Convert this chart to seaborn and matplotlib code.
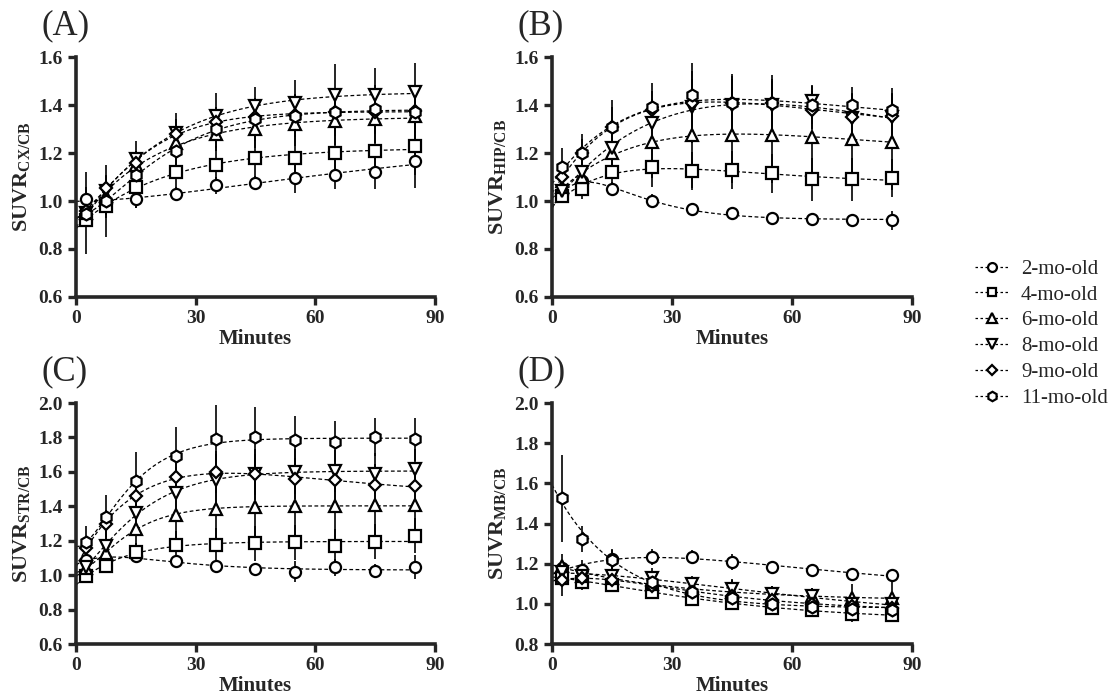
import numpy as np
import pandas as pd
import matplotlib
matplotlib.use("Agg")
import matplotlib.pyplot as plt
import seaborn as sns
from matplotlib.lines import Line2D

minutes = [2.5, 7.5, 15, 25, 35, 45, 55, 65, 75, 85]
groups = ["2-mo-old", "4-mo-old", "6-mo-old", "8-mo-old", "9-mo-old", "11-mo-old"]

# panel A (cortex)
cx_2 = [1.01, 0.99, 1.01, 1.03, 1.065, 1.075, 1.095, 1.11, 1.12, 1.165]
cx_4 = [0.92, 0.98, 1.06, 1.12, 1.15, 1.18, 1.18, 1.20, 1.21, 1.23]
cx_6 = [0.95, 1.02, 1.15, 1.24, 1.28, 1.30, 1.32, 1.335, 1.34, 1.355]
cx_8 = [0.95, 1.04, 1.175, 1.285, 1.355, 1.395, 1.41, 1.44, 1.44, 1.455]
cx_9 = [0.96, 1.055, 1.16, 1.28, 1.33, 1.35, 1.36, 1.37, 1.37, 1.375]
cx_11 = [0.945, 1.0, 1.11, 1.21, 1.30, 1.34, 1.355, 1.37, 1.385, 1.37]
cx_err_2 = [0.11, 0.05, 0.04, 0.03, 0.035, 0.03, 0.06, 0.06, 0.07, 0.11]
cx_err_4 = [0.14, 0.13, 0.09, 0.08, 0.08, 0.10, 0.10, 0.12, 0.12, 0.12]
cx_err_6 = [0.05, 0.06, 0.06, 0.06, 0.07, 0.08, 0.09, 0.10, 0.10, 0.10]
cx_err_8 = [0.04, 0.11, 0.075, 0.08, 0.095, 0.08, 0.095, 0.13, 0.115, 0.12]
cx_err_9 = [0.03, 0.05, 0.05, 0.06, 0.06, 0.07, 0.08, 0.08, 0.09, 0.09]
cx_err_11 = [0.04, 0.06, 0.07, 0.08, 0.08, 0.09, 0.09, 0.10, 0.10, 0.10]

# panel B (hippocampus)
hip_2 = [1.03, 1.085, 1.05, 1.00, 0.965, 0.948, 0.93, 0.925, 0.922, 0.92]
hip_4 = [1.02, 1.05, 1.12, 1.14, 1.125, 1.13, 1.115, 1.09, 1.09, 1.095]
hip_6 = [1.06, 1.10, 1.20, 1.245, 1.275, 1.275, 1.275, 1.265, 1.26, 1.245]
hip_8 = [1.04, 1.12, 1.22, 1.325, 1.39, 1.40, 1.40, 1.415, 1.345, 1.35]
hip_9 = [1.10, 1.20, 1.31, 1.38, 1.41, 1.41, 1.41, 1.38, 1.35, 1.355]
hip_11 = [1.14, 1.20, 1.31, 1.39, 1.44, 1.41, 1.41, 1.40, 1.40, 1.38]
hip_err_2 = [0.03, 0.04, 0.03, 0.03, 0.02, 0.02, 0.02, 0.02, 0.02, 0.04]
hip_err_4 = [0.03, 0.04, 0.06, 0.08, 0.08, 0.08, 0.08, 0.09, 0.09, 0.08]
hip_err_6 = [0.04, 0.06, 0.07, 0.15, 0.22, 0.20, 0.20, 0.18, 0.19, 0.20]
hip_err_8 = [0.05, 0.06, 0.08, 0.10, 0.15, 0.12, 0.10, 0.07, 0.10, 0.10]
hip_err_9 = [0.05, 0.06, 0.08, 0.08, 0.10, 0.10, 0.10, 0.08, 0.08, 0.08]
hip_err_11 = [0.08, 0.08, 0.11, 0.10, 0.135, 0.12, 0.115, 0.08, 0.075, 0.09]

# panel C (striatum)
str_2 = [1.09, 1.09, 1.11, 1.08, 1.055, 1.035, 1.02, 1.045, 1.025, 1.045]
str_4 = [0.995, 1.055, 1.135, 1.175, 1.175, 1.185, 1.19, 1.17, 1.195, 1.23]
str_6 = [1.04, 1.13, 1.27, 1.35, 1.385, 1.395, 1.40, 1.40, 1.41, 1.405]
str_8 = [1.05, 1.17, 1.36, 1.48, 1.555, 1.585, 1.60, 1.605, 1.59, 1.615]
str_9 = [1.16, 1.30, 1.46, 1.57, 1.60, 1.585, 1.56, 1.55, 1.525, 1.52]
str_11 = [1.19, 1.335, 1.545, 1.69, 1.79, 1.805, 1.785, 1.775, 1.80, 1.79]
str_err_2 = [0.05, 0.03, 0.03, 0.03, 0.03, 0.03, 0.06, 0.05, 0.04, 0.07]
str_err_4 = [0.03, 0.04, 0.05, 0.08, 0.10, 0.10, 0.10, 0.10, 0.10, 0.10]
str_err_6 = [0.05, 0.08, 0.10, 0.15, 0.20, 0.22, 0.25, 0.22, 0.22, 0.22]
str_err_8 = [0.05, 0.10, 0.12, 0.15, 0.15, 0.15, 0.13, 0.12, 0.12, 0.12]
str_err_9 = [0.05, 0.08, 0.10, 0.12, 0.12, 0.12, 0.12, 0.12, 0.12, 0.12]
str_err_11 = [0.095, 0.13, 0.17, 0.17, 0.20, 0.17, 0.14, 0.12, 0.11, 0.125]

# panel D (midbrain)
mb_2 = [1.18, 1.17, 1.225, 1.235, 1.235, 1.21, 1.185, 1.17, 1.15, 1.145]
mb_4 = [1.13, 1.11, 1.095, 1.06, 1.025, 1.005, 0.98, 0.97, 0.95, 0.945]
mb_6 = [1.19, 1.14, 1.13, 1.10, 1.08, 1.06, 1.04, 1.04, 1.03, 1.03]
mb_8 = [1.16, 1.14, 1.14, 1.13, 1.10, 1.075, 1.05, 1.04, 1.00, 1.00]
mb_9 = [1.12, 1.13, 1.12, 1.09, 1.06, 1.04, 1.02, 1.00, 0.99, 0.98]
mb_11 = [1.525, 1.325, 1.22, 1.11, 1.06, 1.03, 1.00, 0.985, 0.975, 0.97]
mb_err_2 = [0.04, 0.05, 0.05, 0.04, 0.035, 0.04, 0.02, 0.02, 0.02, 0.02]
mb_err_4 = [0.04, 0.04, 0.03, 0.03, 0.03, 0.03, 0.03, 0.03, 0.04, 0.03]
mb_err_6 = [0.06, 0.05, 0.05, 0.05, 0.05, 0.06, 0.05, 0.04, 0.07, 0.08]
mb_err_8 = [0.05, 0.05, 0.05, 0.05, 0.04, 0.05, 0.04, 0.04, 0.05, 0.04]
mb_err_9 = [0.08, 0.04, 0.04, 0.04, 0.04, 0.04, 0.04, 0.03, 0.04, 0.04]
mb_err_11 = [0.215, 0.065, 0.05, 0.04, 0.04, 0.04, 0.04, 0.04, 0.06, 0.04]

markers = {"2-mo-old": "o", "4-mo-old": "s", "6-mo-old": "^",
           "8-mo-old": "v", "9-mo-old": "D", "11-mo-old": "h"}
msizes = {"2-mo-old": 8, "4-mo-old": 8, "6-mo-old": 9,
          "8-mo-old": 9, "9-mo-old": 6, "11-mo-old": 8.5}

panels = [
    ("(A)", "CX/CB", [cx_2, cx_4, cx_6, cx_8, cx_9, cx_11],
     [cx_err_2, cx_err_4, cx_err_6, cx_err_8, cx_err_9, cx_err_11], (0.6, 1.6)),
    ("(B)", "HIP/CB", [hip_2, hip_4, hip_6, hip_8, hip_9, hip_11],
     [hip_err_2, hip_err_4, hip_err_6, hip_err_8, hip_err_9, hip_err_11], (0.6, 1.6)),
    ("(C)", "STR/CB", [str_2, str_4, str_6, str_8, str_9, str_11],
     [str_err_2, str_err_4, str_err_6, str_err_8, str_err_9, str_err_11], (0.6, 2.0)),
    ("(D)", "MB/CB", [mb_2, mb_4, mb_6, mb_8, mb_9, mb_11],
     [mb_err_2, mb_err_4, mb_err_6, mb_err_8, mb_err_9, mb_err_11], (0.8, 2.0)),
]


def fit_curve(t, y, tt):
    # y = A + (B + C t) exp(-k t), k by grid search, rest by least squares
    t = np.asarray(t, float)
    y = np.asarray(y, float)
    best = None
    for k in np.linspace(0.02, 0.5, 200):
        e = np.exp(-k * t)
        M = np.column_stack([np.ones_like(t), e, t * e])
        coef, *_ = np.linalg.lstsq(M, y, rcond=None)
        r = np.sum((M @ coef - y) ** 2)
        if best is None or r < best[0]:
            best = (r, k, coef)
    _, k, c = best
    e = np.exp(-k * tt)
    return c[0] + (c[1] + c[2] * tt) * e


sns.set_style("ticks")
plt.rcParams["font.family"] = ["Liberation Serif", "DejaVu Serif"]
plt.rcParams["mathtext.fontset"] = "custom"
plt.rcParams["mathtext.bf"] = "Liberation Serif:bold"
plt.rcParams["mathtext.rm"] = "Liberation Serif"

fig = plt.figure(figsize=(11.12, 6.97), dpi=100)
positions = [
    [0.0683, 0.5739, 0.3228, 0.3443],
    [0.4964, 0.5739, 0.3237, 0.3443],
    [0.0683, 0.0760, 0.3228, 0.3458],
    [0.4964, 0.0760, 0.3237, 0.3458],
]
tt = np.linspace(0, 85, 200)

for pos, (tag, region, series, errs, ylim) in zip(positions, panels):
    ax = fig.add_axes(pos)
    curves = []
    for g, vals in zip(groups, series):
        curves.append(pd.DataFrame({"t": tt, "y": fit_curve(minutes, vals, tt), "group": g}))
    curves = pd.concat(curves, ignore_index=True)
    sns.lineplot(data=curves, x="t", y="y", units="group", estimator=None,
                 color="black", lw=0.9, linestyle=(0, (3, 2)), ax=ax, legend=False)
    for g, vals, err in zip(groups, series, errs):
        ax.errorbar(minutes, vals, yerr=err, fmt="none", ecolor="black",
                    elinewidth=1.2, capsize=0, zorder=3)
    for g, vals in zip(groups, series):
        ax.plot(minutes, vals, linestyle="none", marker=markers[g], ms=msizes[g],
                mfc="white", mec="black", mew=1.6, zorder=4)
    ax.set_xlim(0, 90)
    ax.set_ylim(*ylim)
    ax.set_xticks([0, 30, 60, 90])
    ax.set_yticks(np.arange(ylim[0], ylim[1] + 0.01, 0.2))
    ax.yaxis.set_major_formatter(matplotlib.ticker.FormatStrFormatter("%.1f"))
    sns.despine(ax=ax)
    for s in ["left", "bottom"]:
        ax.spines[s].set_linewidth(2.6)
    ax.tick_params(width=2.4, length=6, labelsize=14)
    for lab in ax.get_xticklabels() + ax.get_yticklabels():
        lab.set_fontweight("bold")
    ax.set_xlabel("Minutes", fontsize=15, fontweight="bold", labelpad=1)
    ax.set_ylabel(r"$\mathbf{SUVR}_{\mathbf{%s}}$" % region, fontsize=16)
    ax.text(-0.095, 1.06, tag, transform=ax.transAxes, fontsize=25,
            ha="left", va="bottom")

handles = [Line2D([0], [0], color="black", lw=0.9, linestyle=(0, (2, 2)),
                  marker=markers[g], ms=msizes[g] * 0.8, mfc="white",
                  mec="black", mew=1.6) for g in groups]
fig.legend(handles, groups, loc="upper left", bbox_to_anchor=(0.86, 0.655),
           frameon=False, fontsize=15, handlelength=1.6, labelspacing=0.3,
           handletextpad=0.6)

fig.savefig("out.png", dpi=100)
